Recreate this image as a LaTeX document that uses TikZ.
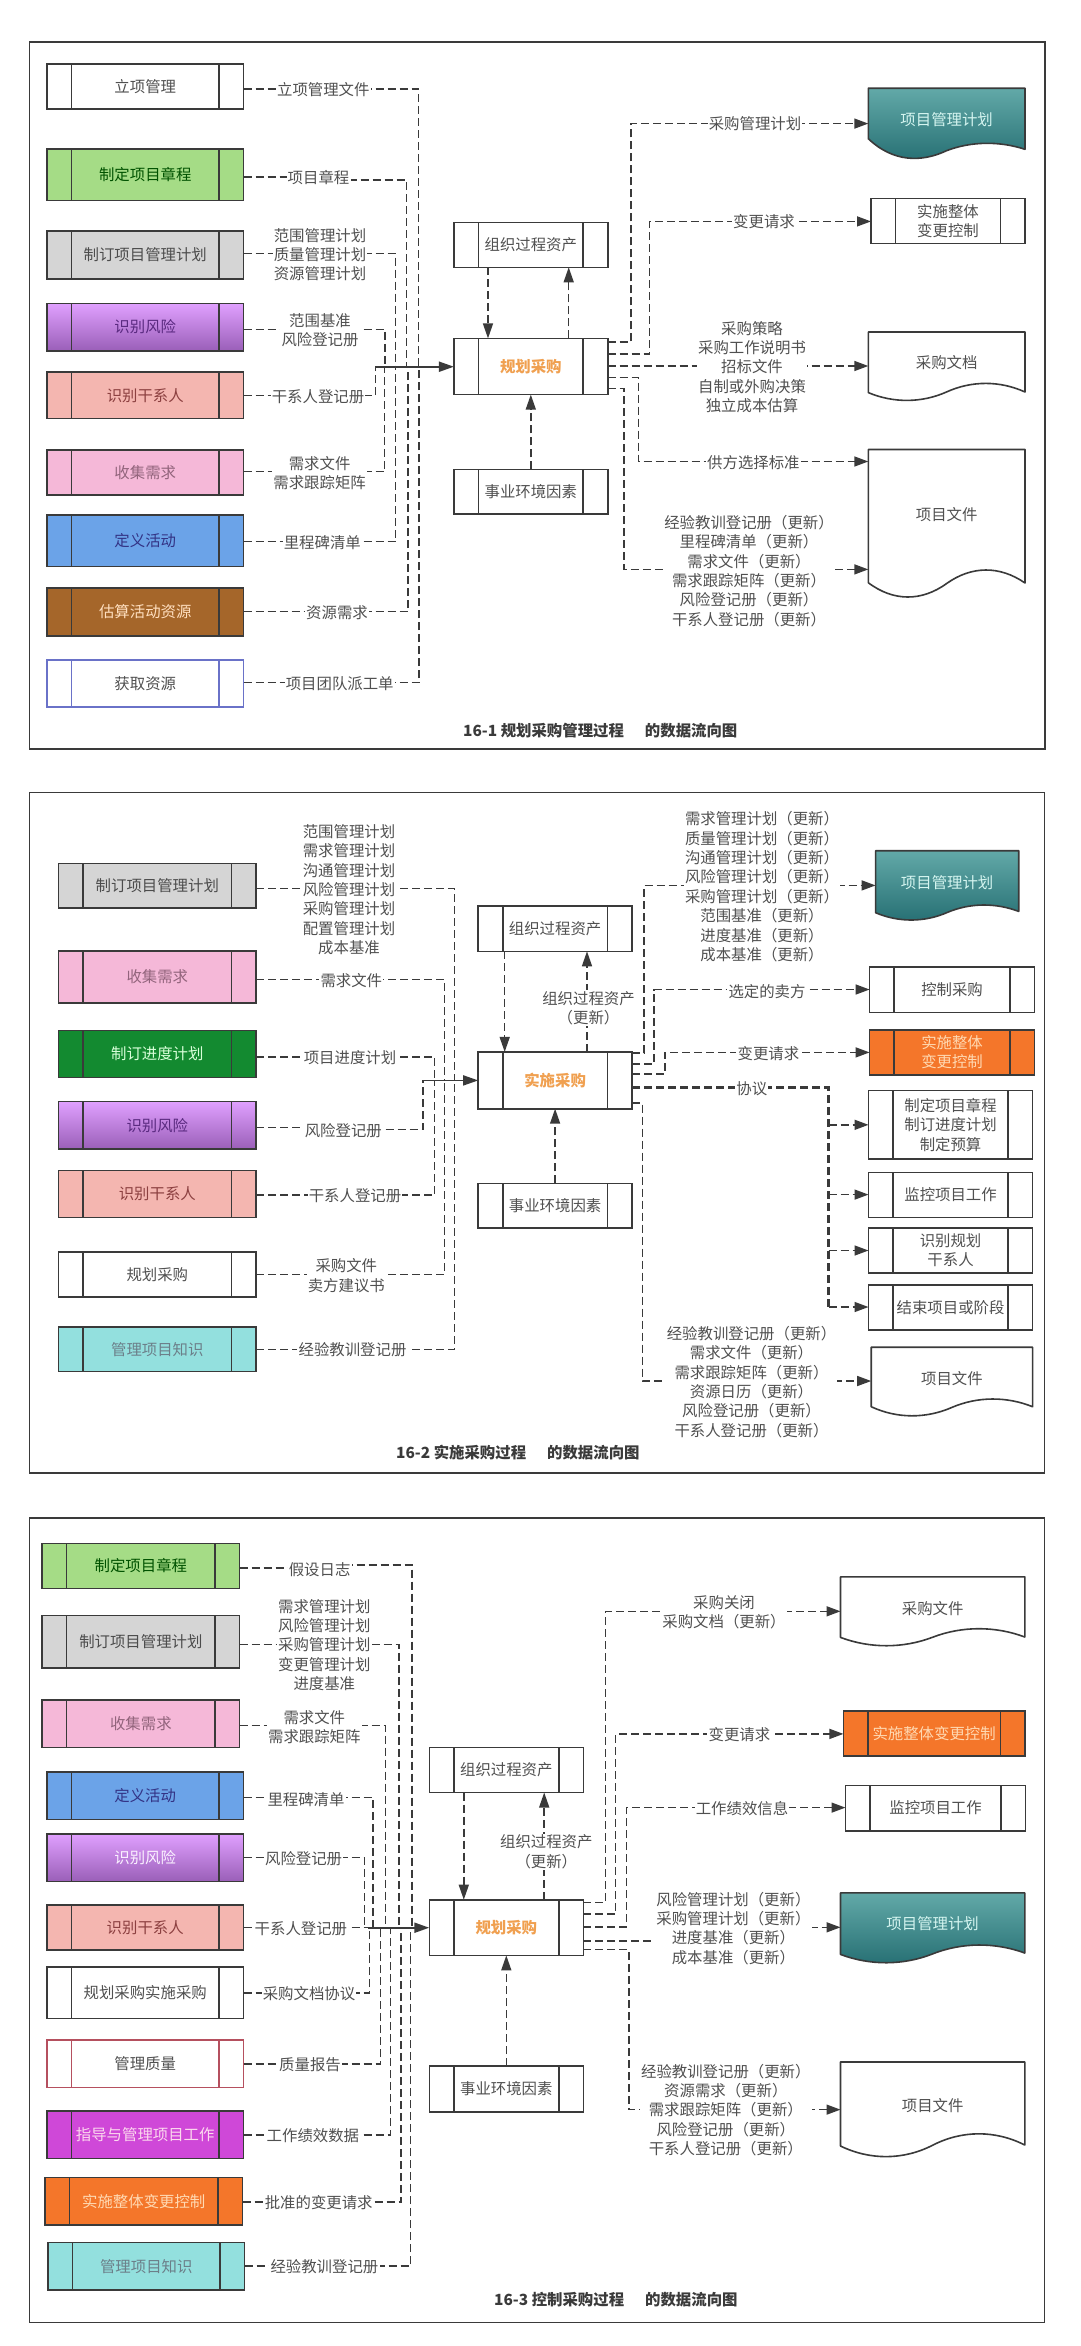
\documentclass[tikz,border=0pt]{standalone}
\usepackage{fontspec}
\setmainfont{Noto Sans CJK SC}
\usetikzlibrary{arrows.meta,calc}
\definecolor{ink}{HTML}{3A3A3A}
\definecolor{lab}{HTML}{505050}
\definecolor{fgreen}{HTML}{A5DC86}
\definecolor{fgray}{HTML}{D5D5D5}
\definecolor{fsalmon}{HTML}{F4B6B0}
\definecolor{fpink}{HTML}{F5B8D8}
\definecolor{fblue}{HTML}{6BA3E8}
\definecolor{fbrown}{HTML}{A5662A}
\definecolor{fdkgreen}{HTML}{138A30}
\definecolor{fcyan}{HTML}{93E0DE}
\definecolor{forange}{HTML}{F4762A}
\definecolor{fmagenta}{HTML}{CF48D8}
\definecolor{plink}{HTML}{6A72C8}
\definecolor{redline}{HTML}{B5505F}
\definecolor{orangetxt}{HTML}{F0A050}
\definecolor{tealtxt}{HTML}{D5F5F0}
\definecolor{purple1}{HTML}{E0A0FF}
\definecolor{purple2}{HTML}{9A5FB8}
\definecolor{purple3}{HTML}{5A2A80}
\definecolor{teal1}{HTML}{62A9A8}
\definecolor{teal2}{HTML}{266F73}
\tikzset{
  sz/.style={font=\fontsize{15.4}{19.4}\selectfont},
  box/.style={rectangle,inner sep=0pt,outer sep=0pt,line width=1.6pt,align=center,text=lab,sz},
  boxline/.style={line width=1.6pt},
  docnode/.style={rectangle,inner sep=0pt,outer sep=0pt,align=center,text=lab,sz},
  lbl/.style={fill=white,inner sep=1.2pt,align=center,text=lab,sz},
  ttl/.style={anchor=west,inner sep=0pt,text=ink,font=\fontsize{15.4}{19.4}\selectfont\bfseries},
  frame/.style={draw=ink,line width=1.6pt},
  cn/.style={draw=ink,line width=1.5pt,dash pattern=on 8pt off 4pt},
  ca/.style={cn,-{Triangle[length=14pt,width=10pt]}},
  cav/.style={cn,-{Triangle[length=15pt,width=10pt]}},
  thick4/.style={cn,line width=2.4pt},
  mainarr/.style={draw=ink,line width=2pt,-{Triangle[length=15pt,width=10pt]}},
  sgreen/.style={fill=fgreen,text=black!20!green!40!black},
  sgray/.style={fill=fgray,text=black!70},
  spurple/.style={top color=purple1,bottom color=purple2,text=purple3},
  spurple2/.style={top color=purple1,bottom color=purple2,text=white!85!purple1},
  ssalmon/.style={fill=fsalmon,text=red!40!black!75},
  spink/.style={fill=fpink,text=magenta!40!black!80},
  sblue/.style={fill=fblue,text=blue!40!black!80},
  sbrown/.style={fill=fbrown,text=orange!25!white},
  sdk/.style={fill=fdkgreen,text=green!15!white},
  scyan/.style={fill=fcyan,text=cyan!30!black!75},
  sorange/.style={fill=forange,text=orange!30!white},
  smag/.style={fill=fmagenta,text=magenta!15!white},
  swhite/.style={fill=white},
  sproc/.style={fill=white,text=orangetxt,font=\fontsize{15.4}{19.4}\selectfont\bfseries},
  steal/.style={top color=teal1,bottom color=teal2},
}
% style, stroke, name, x1, y1, x2, y2, text
\newcommand{\pbox}[8]{%
  \pgfmathsetmacro{\pbW}{#6-(#4)}\pgfmathsetmacro{\pbH}{#7-(#5)}%
  \node[box,#1,draw=#2,minimum width=\pbW pt,minimum height=\pbH pt] (#3) at ({(#4+#6)/2},{(#5+#7)/2}) {#8};
  \draw[boxline,draw=#2] ($(#3.north west)+(24.5,0)$) -- ($(#3.south west)+(24.5,0)$);
  \draw[boxline,draw=#2] ($(#3.north east)+(-24.5,0)$) -- ($(#3.south east)+(-24.5,0)$);
}
% wave document: style, name, x1, ytop, x2, {yL,yLow,yHigh,yR}, ytext, text
\def\wparse#1,#2,#3,#4\relax{\def\wL{#1}\def\wLow{#2}\def\wHigh{#3}\def\wR{#4}}
\newcommand{\wdoc}[8]{%
  \wparse#6\relax
  \pgfmathsetmacro{\wW}{#5-(#3)}\pgfmathsetmacro{\wM}{(\wLow+\wHigh)/2}%
  \pgfmathsetmacro{\cR}{\wHigh+((\wHigh-\wR)+(\wHigh-\wM))/6}\pgfmathsetmacro{\cL}{\wLow+((\wLow-\wL)+(\wLow-\wM))/6}%
  \pgfmathsetmacro{\xa}{#5-0.16*\wW}\pgfmathsetmacro{\xb}{#5-0.34*\wW}\pgfmathsetmacro{\xc}{#3+0.5*\wW}%
  \pgfmathsetmacro{\xd}{#3+0.34*\wW}\pgfmathsetmacro{\xe}{#3+0.16*\wW}%
  \path[draw=ink,line width=1.6pt,line join=round,#1] (#3,#4) -- (#5,#4) -- (#5,\wR) .. controls (\xa,\cR) and (\xb,\cR) .. (\xc,\wM) .. controls (\xd,\cL) and (\xe,\cL) .. (#3,\wL) -- cycle;
  \pgfmathsetmacro{\nH}{2*(#7-(#4))}%
  \node[docnode,minimum width=\wW pt,minimum height=\nH pt] (#2) at (\xc,#7) {#8};
}
\begin{document}
\begin{tikzpicture}[x=1pt,y=-1pt]
\useasboundingbox (0,0) rectangle (1080,2346);
\fill[white] (0,0) rectangle (1080,2346);

% ============ PANEL 1 ============
\draw[frame] (29.3,41.7) rectangle (1045,749);
\pbox{swhite}{ink}{a1}{47}{64}{243.5}{109}{立项管理}
\pbox{sgreen}{ink}{a2}{47}{148.7}{243.5}{200.3}{制定项目章程}
\pbox{sgray}{ink}{a3}{47}{231}{243.5}{278.7}{制订项目管理计划}
\pbox{spurple}{ink}{a4}{47}{303.3}{243.5}{350.7}{识别风险}
\pbox{ssalmon}{ink}{a5}{47}{372}{243.5}{418.5}{识别干系人}
\pbox{spink}{ink}{a6}{47}{450}{243.5}{494.7}{收集需求}
\pbox{sblue}{ink}{a7}{47}{515}{243.5}{566.3}{定义活动}
\pbox{sbrown}{ink}{a8}{47}{587.7}{243.5}{635.7}{估算活动资源}
\pbox{swhite}{plink}{a9}{47}{659.7}{243.5}{707}{获取资源}
\pbox{swhite}{ink}{aorg}{453.9}{222.3}{607.7}{267.3}{组织过程资产}
\pbox{sproc}{ink}{aproc}{453.9}{338.4}{607.7}{394.6}{规划采购}
\pbox{swhite}{ink}{aenv}{453.9}{469.3}{607.7}{513.8}{事业环境因素}
\wdoc{steal}{ad1}{868.3}{88.2}{1025}{138.7,158,143.3,149.3}{120}{\textcolor{tealtxt}{项目管理计划}}
\pbox{swhite}{ink}{ad2}{871}{198.4}{1025}{243.4}{实施整体\\变更控制}
\wdoc{fill=white}{ad3}{868.3}{332}{1025}{392.6,400.4,383.4,392}{362.8}{采购文档}
\wdoc{fill=white}{ad4}{868.3}{449.5}{1025}{582.7,597,570,583}{515}{项目文件}
\coordinate (aj) at (375.3,366.7);
\draw[cn] (a1.east |- 0,89) -- (418.5,89) -- (418.5,0 |- aj);
\draw[cn] (a2.east |- 0,177) -- (300,177) -- (300,180) -- (406.5,180) -- (406.5,0 |- aj);
\draw[cn] (a3.east |- 0,253.3) -- (395.3,253.3) -- (395.3,0 |- aj);
\draw[cn] (a4.east |- 0,329.3) -- (385,329.3) -- (385,0 |- aj);
\draw[cn] (a5.east |- 0,395.3) -- (375.3,395.3) -- (aj);
\draw[cn] (a6.east |- 0,471.7) -- (384.5,471.7) -- (384.5,0 |- aj);
\draw[cn] (a7.east |- 0,541.3) -- (395.7,541.3) -- (395.7,0 |- aj);
\draw[cn] (a8.east |- 0,611.7) -- (408,611.7) -- (408,0 |- aj);
\draw[cn] (a9.east |- 0,682.7) -- (419,682.7) -- (419,0 |- aj);
\draw[mainarr] (aj) -- (aproc.west |- aj);
\draw[cav] (488,0 |- aorg.south) -- (488,0 |- aproc.north);
\draw[cav] (568.7,0 |- aproc.north) -- (568.7,0 |- aorg.south);
\draw[cav] (aenv.north) -- (aproc.south);
\draw[ca] (aproc.east |- 0,342) -- (631,342) -- (631,123.6) -- (ad1.west |- 0,123.6);
\draw[ca] (aproc.east |- 0,354) -- (649.4,354) -- (649.4,221.4) -- (ad2.west |- 0,221.4);
\draw[ca] (aproc.east |- 0,366) -- (ad3.west |- 0,366);
\draw[ca] (aproc.east |- 0,377.5) -- (638.5,377.5) -- (638.5,461.5) -- (ad4.west |- 0,461.5);
\draw[ca] (aproc.east |- 0,388.5) -- (623.8,388.5) -- (623.8,569.4) -- (ad4.west |- 0,569.4);
\node[lbl] (al1) at (323.3,90) {立项管理文件};
\node[lbl] (al2) at (318.5,177.3) {项目章程};
\node[lbl] (al3) at (320,254.7) {范围管理计划\\质量管理计划\\资源管理计划};
\node[lbl] (al4) at (320,330.3) {范围基准\\风险登记册};
\node[lbl] (al5) at (318,396.7) {干系人登记册};
\node[lbl] (al6) at (319.6,473.3) {需求文件\\需求跟踪矩阵};
\node[lbl] (al7) at (322.3,542.3) {里程碑清单};
\node[lbl] (al8) at (337,612.7) {资源需求};
\node[lbl] (al9) at (339.7,683.3) {项目团队派工单};
\node[lbl] (ar1) at (755,124) {采购管理计划};
\node[lbl] (ar2) at (764,222) {变更请求};
\node[lbl] (ar3) at (752,367) {采购策略\\采购工作说明书\\招标文件\\自制或外购决策\\独立成本估算};
\node[lbl] (ar4) at (753.4,462.4) {供方选择标准};
\node[lbl] (ar5) at (749,571) {经验教训登记册（更新）\\里程碑清单（更新）\\需求文件（更新）\\需求跟踪矩阵（更新）\\风险登记册（更新）\\干系人登记册（更新）};
\node[ttl] (at) at (463,731) {16-1 规划采购管理过程\hspace{21pt}的数据流向图};

% ============ PANEL 2 ============
\draw[frame] (29.5,792.5) rectangle (1044.4,1473);
\pbox{sgray}{ink}{b1}{58.6}{863.5}{256}{908}{制订项目管理计划}
\pbox{spink}{ink}{b2}{58.6}{951}{256}{1003}{收集需求}
\pbox{sdk}{ink}{b3}{58.6}{1030.4}{256}{1077.3}{制订进度计划}
\pbox{spurple}{ink}{b4}{58.6}{1101.4}{256}{1149.2}{识别风险}
\pbox{ssalmon}{ink}{b5}{58.6}{1170.6}{256}{1217.5}{识别干系人}
\pbox{swhite}{ink}{b6}{58.6}{1251.9}{256}{1297}{规划采购}
\pbox{scyan}{ink}{b7}{58.6}{1326.9}{256}{1371.5}{管理项目知识}
\pbox{swhite}{ink}{borg}{478.2}{906.2}{632}{951.3}{组织过程资产}
\pbox{sproc}{ink}{bproc}{478.2}{1051.9}{632}{1108.7}{实施采购}
\pbox{swhite}{ink}{benv}{478.2}{1183.3}{632}{1228}{事业环境因素}
\wdoc{steal}{bd1}{875.6}{850.7}{1018.7}{912.7,920,905,911.4}{882.4}{\textcolor{tealtxt}{项目管理计划}}
\pbox{swhite}{ink}{bd2}{869.6}{967}{1034.5}{1012.5}{控制采购}
\pbox{sorange}{ink}{bd3}{869.6}{1029.8}{1034.5}{1074.9}{实施整体\\变更控制}
\pbox{swhite}{ink}{bd4}{868.5}{1090.5}{1032.6}{1159}{制定项目章程\\制订进度计划\\制定预算}
\pbox{swhite}{ink}{bd5}{868.5}{1172.5}{1032.6}{1217.6}{监控项目工作}
\pbox{swhite}{ink}{bd6}{868.5}{1228}{1032.6}{1272.7}{识别规划\\干系人}
\pbox{swhite}{ink}{bd7}{868.5}{1284.8}{1032.6}{1329.9}{结束项目或阶段}
\wdoc{fill=white}{bd8}{871.2}{1347.2}{1032.6}{1406.7,1415.8,1399,1406.7}{1378.5}{项目文件}
\coordinate (bj) at (423,1080.4);
\draw[cn] (b1.east |- 0,888.5) -- (454.3,888.5) -- (454.3,0 |- bj);
\draw[cn] (b2.east |- 0,979.6) -- (444.3,979.6) -- (444.3,0 |- bj);
\draw[cn] (b3.east |- 0,1056.8) -- (434.7,1056.8) -- (434.7,0 |- bj);
\draw[cn] (b4.east |- 0,1127.3) -- (320,1127.3) -- (320,1129.6) -- (423,1129.6) -- (bj);
\draw[cn] (b5.east |- 0,1195) -- (434.7,1195) -- (434.7,0 |- bj);
\draw[cn] (b6.east |- 0,1274.6) -- (444.3,1274.6) -- (444.3,0 |- bj);
\draw[cn] (b7.east |- 0,1349.6) -- (454.3,1349.6) -- (454.3,0 |- bj);
\draw[mainarr,line width=1.6pt] (bj) -- (bproc.west |- bj);
\draw[cav] (504.7,0 |- borg.south) -- (504.7,0 |- bproc.north);
\draw[cav] (587,0 |- bproc.north) -- (587,0 |- borg.south);
\draw[cav] (benv.north) -- (bproc.south);
\draw[ca] (bproc.east |- 0,1052.8) -- (644,1052.8) -- (644,885.4) -- (bd1.west |- 0,885.4);
\draw[ca] (bproc.east |- 0,1064) -- (653.8,1064) -- (653.8,989.5) -- (bd2.west |- 0,989.5);
\draw[ca] (bproc.east |- 0,1074) -- (664.8,1074) -- (664.8,1052.4) -- (bd3.west |- 0,1052.4);
\draw[thick4] (bproc.east |- 0,1087.5) -- (828.5,1087.5) -- (828.5,1307);
\draw[ca] (828.5,1124.8) -- (bd4.west |- 0,1124.8);
\draw[ca] (828.5,1194.6) -- (bd5.west |- 0,1194.6);
\draw[ca] (828.5,1250.5) -- (bd6.west |- 0,1250.5);
\draw[ca] (828.5,1307) -- (bd7.west |- 0,1307);
\draw[ca] (bproc.east |- 0,1103) -- (642.3,1103) -- (642.3,1381) -- (bd8.west |- 0,1381);
\node[lbl] (bl1) at (349,889.6) {范围管理计划\\需求管理计划\\沟通管理计划\\风险管理计划\\采购管理计划\\配置管理计划\\成本基准};
\node[lbl] (bl2) at (351.3,980.9) {需求文件};
\node[lbl] (bl3) at (350,1057.7) {项目进度计划};
\node[lbl] (bl4) at (343.3,1130.4) {风险登记册};
\node[lbl] (bl5) at (355,1196) {干系人登记册};
\node[lbl] (bl6) at (346.3,1275.5) {采购文件\\卖方建议书};
\node[lbl] (bl7) at (352.5,1349.6) {经验教训登记册};
\node[lbl] (bl8) at (588.5,1008) {组织过程资产\\（更新）};
\node[lbl] (br1) at (762,886.7) {需求管理计划（更新）\\质量管理计划（更新）\\沟通管理计划（更新）\\风险管理计划（更新）\\采购管理计划（更新）\\范围基准（更新）\\进度基准（更新）\\成本基准（更新）};
\node[lbl] (br2) at (767,991.6) {选定的卖方};
\node[lbl] (br3) at (768.4,1053.7) {变更请求};
\node[lbl] (br4) at (751.8,1088.8) {协议};
\node[lbl] (br5) at (751.5,1382) {经验教训登记册（更新）\\需求文件（更新）\\需求跟踪矩阵（更新）\\资源日历（更新）\\风险登记册（更新）\\干系人登记册（更新）};
\node[ttl] (bt) at (396,1452.8) {16-2 实施采购过程\hspace{21pt}的数据流向图};

% ============ PANEL 3 ============
\draw[frame] (29.3,1518) rectangle (1044.6,2322.3);
\pbox{sgreen}{ink}{c1}{42.1}{1543.3}{239.6}{1588.3}{制定项目章程}
\pbox{sgray}{ink}{c2}{42.1}{1615.3}{239.6}{1667.7}{制订项目管理计划}
\pbox{spink}{ink}{c3}{42.1}{1700}{239.6}{1747.3}{收集需求}
\pbox{sblue}{ink}{c4}{46.8}{1771.7}{243.6}{1819.3}{定义活动}
\pbox{spurple2}{ink}{c5}{46.8}{1833.7}{243.6}{1881.3}{识别风险}
\pbox{ssalmon}{ink}{c6}{46.8}{1905}{243.6}{1950}{识别干系人}
\pbox{swhite}{ink}{c7}{46.8}{1966.7}{243.6}{2018.3}{规划采购实施采购}
\pbox{swhite}{redline}{c8}{46.8}{2039.7}{243.6}{2087.3}{管理质量}
\pbox{smag}{ink}{c9}{46.8}{2111}{243.6}{2158.3}{指导与管理项目工作}
\pbox{sorange}{ink}{c10}{45}{2177.3}{242.5}{2225}{实施整体变更控制}
\pbox{scyan}{ink}{c11}{47.9}{2242.3}{244.6}{2290}{管理项目知识}
\pbox{swhite}{ink}{corg}{429.3}{1747.5}{583.3}{1792.5}{组织过程资产}
\pbox{sproc}{ink}{cproc}{429.3}{1899.7}{583.3}{1955.4}{规划采购}
\pbox{swhite}{ink}{cenv}{429.3}{2066}{583.3}{2112}{事业环境因素}
\wdoc{fill=white}{cd1}{840.5}{1576.8}{1024.8}{1637.4,1645.7,1628.7,1637}{1608.3}{采购文件}
\pbox{sorange}{ink}{cd2}{843.4}{1711}{1024.8}{1756.2}{实施整体变更控制}
\pbox{swhite}{ink}{cd3}{845.5}{1785.3}{1025.6}{1830.8}{监控项目工作}
\wdoc{steal}{cd4}{840.5}{1892.9}{1024.8}{1954.4,1962.7,1945,1953}{1923.9}{\textcolor{tealtxt}{项目管理计划}}
\wdoc{fill=white}{cd5}{840.5}{2062}{1024.8}{2146,2156.6,2133.8,2145}{2105.2}{项目文件}
\coordinate (cj) at (368,1927.7);
\draw[cn] (c1.east |- 0,1568) -- (300,1568) -- (300,1565) -- (412,1565) -- (412,0 |- cj);
\draw[cn] (c2.east |- 0,1644.3) -- (399,1644.3) -- (399,0 |- cj);
\draw[cn] (c3.east |- 0,1725.7) -- (385.7,1725.7) -- (385.7,0 |- cj);
\draw[cn] (c4.east |- 0,1797.7) -- (372.9,1797.7) -- (372.9,0 |- cj);
\draw[cn] (c5.east |- 0,1857.7) -- (364.3,1857.7) -- (364.3,0 |- cj);
\draw[cn] (c6.east |- 0,1927.7) -- (cj);
\draw[cn] (c7.east |- 0,1993) -- (369.6,1993) -- (369.6,0 |- cj);
\draw[cn] (c8.east |- 0,2064) -- (380.7,2064) -- (380.7,0 |- cj);
\draw[cn] (c9.east |- 0,2135) -- (390.7,2135) -- (390.7,0 |- cj);
\draw[cn] (c10.east |- 0,2202) -- (401,2202) -- (401,0 |- cj);
\draw[cn] (c11.east |- 0,2266) -- (410.7,2266) -- (410.7,0 |- cj);
\draw[mainarr] (cj) -- (cproc.west |- cj);
\draw[cav] (463.8,0 |- corg.south) -- (463.8,0 |- cproc.north);
\draw[cav] (544.2,0 |- cproc.north) -- (544.2,0 |- corg.south);
\draw[cav] (cenv.north) -- (cproc.south);
\draw[ca] (cproc.east |- 0,1902.6) -- (605.6,1902.6) -- (605.6,1611.3) -- (cd1.west |- 0,1611.3);
\draw[ca] (cproc.east |- 0,1914.2) -- (615.7,1914.2) -- (615.7,1733.9) -- (cd2.west |- 0,1733.9);
\draw[ca] (cproc.east |- 0,1926.8) -- (626.7,1926.8) -- (626.7,1807.6) -- (cd3.west |- 0,1807.6);
\draw[ca] (cproc.east |- 0,1940.9) -- (735,1940.9) -- (735,1927.3) -- (cd4.west |- 0,1927.3);
\draw[ca] (cproc.east |- 0,1949.6) -- (628.8,1949.6) -- (628.8,2109.6) -- (cd5.west |- 0,2109.6);
\node[lbl] (cl1) at (319.6,1569.3) {假设日志};
\node[lbl] (cl2) at (324.3,1645) {需求管理计划\\风险管理计划\\采购管理计划\\变更管理计划\\进度基准};
\node[lbl] (cl3) at (314.3,1727.3) {需求文件\\需求跟踪矩阵};
\node[lbl] (cl4) at (306,1799.3) {里程碑清单};
\node[lbl] (cl5) at (303.6,1858.7) {风险登记册};
\node[lbl] (cl6) at (300.9,1928.7) {干系人登记册};
\node[lbl] (cl7) at (309,1993.7) {采购文档协议};
\node[lbl] (cl8) at (310,2064.7) {质量报告};
\node[lbl] (cl9) at (312.9,2135.7) {工作绩效数据};
\node[lbl] (cl10) at (318.7,2203) {批准的变更请求};
\node[lbl] (cl11) at (324.4,2266.7) {经验教训登记册};
\node[lbl] (cl12) at (546.3,1851.7) {组织过程资产\\（更新）};
\node[lbl] (cr1) at (724,1612) {采购关闭\\采购文档（更新）};
\node[lbl] (cr2) at (739.4,1734.9) {变更请求};
\node[lbl] (cr3) at (742,1808.5) {工作绩效信息};
\node[lbl] (cr4) at (733.4,1928.3) {风险管理计划（更新）\\采购管理计划（更新）\\进度基准（更新）\\成本基准（更新）};
\node[lbl] (cr5) at (725.8,2110) {经验教训登记册（更新）\\资源需求（更新）\\需求跟踪矩阵（更新）\\风险登记册（更新）\\干系人登记册（更新）};
\node[ttl] (ct) at (494,2299.5) {16-3 控制采购过程\hspace{21pt}的数据流向图};
\end{tikzpicture}
\end{document}
